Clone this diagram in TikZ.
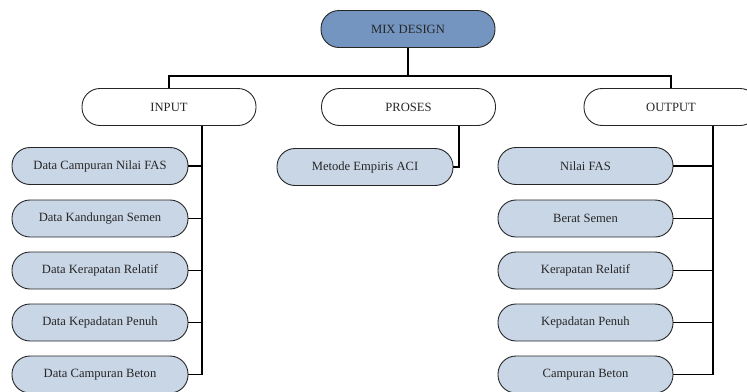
\documentclass[tikz,border=0pt]{standalone}
\usepackage{fontspec}
\setmainfont{Liberation Serif}
\definecolor{mixblue}{HTML}{7395C0}
\definecolor{childblue}{HTML}{C9D6E6}
\begin{document}
\begin{tikzpicture}[x=1pt,y=-1pt,
  box/.style={draw=black!85, line width=0.9pt, rounded corners=18pt, minimum height=37pt, inner sep=0pt, font=\fontsize{12.6}{14}\selectfont, text=black!85},
  topbox/.style={box, minimum width=174pt},
  child/.style={box, fill=childblue, minimum width=176pt},
  conn/.style={draw=black, line width=1.1pt}]
\useasboundingbox (0,0) rectangle (747,391);
\node[topbox, fill=mixblue] (mix) at (408,29) {MIX DESIGN};
\node[topbox] (input) at (169,107) {INPUT};
\node[topbox] (proses) at (408.5,107) {PROSES};
\node[topbox] (output) at (671,107) {OUTPUT};
% left children
\node[child] (i1) at (100,166) {Data Campuran Nilai FAS};
\node[child] (i2) at (100,218.5) {Data Kandungan Semen};
\node[child] (i3) at (100,270.5) {Data Kerapatan Relatif};
\node[child] (i4) at (100,322.5) {Data Kepadatan Penuh};
\node[child] (i5) at (100,374.5) {Data Campuran Beton};
% middle
\node[child] (p1) at (365,167) {Metode Empiris ACI};
% right children
\node[child, minimum width=175pt] (o1) at (585.5,166) {Nilai FAS};
\node[child, minimum width=175pt] (o2) at (585.5,218.5) {Berat Semen};
\node[child, minimum width=175pt] (o3) at (585.5,270.5) {Kerapatan Relatif};
\node[child, minimum width=175pt] (o4) at (585.5,322.5) {Kepadatan Penuh};
\node[child, minimum width=175pt] (o5) at (585.5,374.5) {Campuran Beton};
% top connectors
\coordinate (j) at (408,76);
\draw[conn] (mix.south) -- (j);
\draw[conn] (input.north) |- (j) -| (output.north);
% input bus
\coordinate (ib) at (202,374.5);
\draw[conn] (input.south -| ib) -- (ib);
\foreach \n in {i1,i2,i3,i4,i5} \draw[conn] (\n.east) -- (\n.east -| ib);
% proses
\coordinate (pb) at (459,167);
\draw[conn] (proses.south -| pb) -- (pb) -- (p1.east);
% output bus
\coordinate (ob) at (713,374.5);
\draw[conn] (output.south -| ob) -- (ob);
\foreach \n in {o1,o2,o3,o4,o5} \draw[conn] (\n.east) -- (\n.east -| ob);
\end{tikzpicture}
\end{document}
